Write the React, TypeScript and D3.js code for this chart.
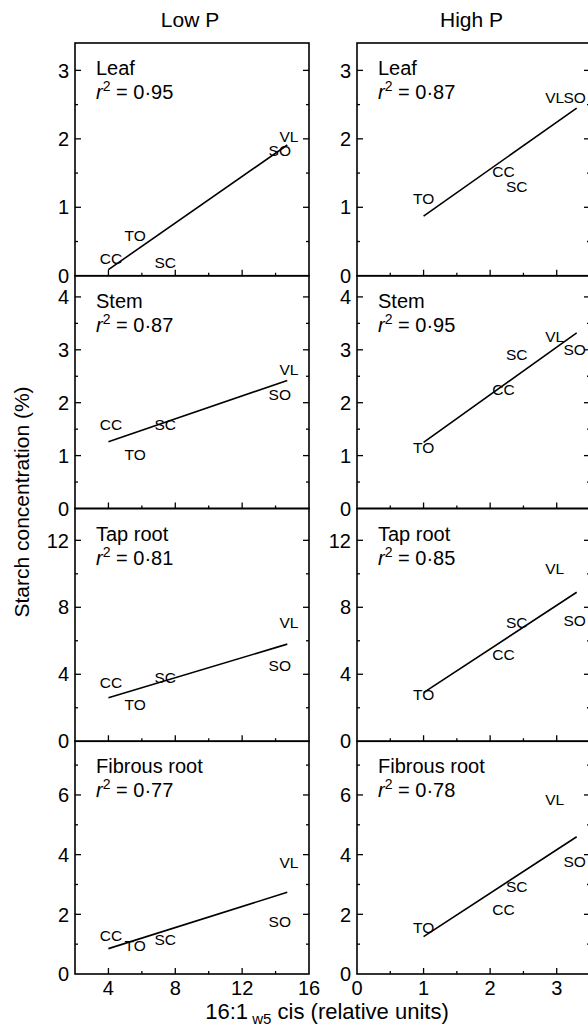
import React from 'react';
import * as d3 from 'd3';

// column / row names
const treatments = ['Low P', 'High P'];
const organs = ['Leaf', 'Stem', 'Tap root', 'Fibrous root'];
const lowPR2 = ['0·95', '0·87', '0·81', '0·77'];
const highPR2 = ['0·87', '0·95', '0·85', '0·78'];

// genotypes (labels are the markers)
const genotypes = ['CC', 'SC', 'TO', 'SO', 'VL'];
const lowPX = [4.15, 7.4, 5.6, 14.25, 14.8];
const highPX = [2.2, 2.4, 1.0, 3.27, 2.97];

// starch concentration (%) per organ, order as genotypes
const lowPY = [
  [0.26, 0.2, 0.59, 1.83, 2.03],
  [1.59, 1.59, 1.03, 2.16, 2.63],
  [3.5, 3.8, 2.2, 4.5, 7.1],
  [1.29, 1.15, 0.95, 1.76, 3.73],
];
const highPY = [
  [1.52, 1.3, 1.13, 2.61, 2.61],
  [2.25, 2.91, 1.16, 3.0, 3.26],
  [5.16, 7.1, 2.8, 7.2, 10.3],
  [2.17, 2.95, 1.56, 3.76, 5.86],
];

// fitted regression lines (ends)
const lowPFitX = [4, 14.7];
const lowPFitY = [[0.09, 1.91], [1.26, 2.42], [2.6, 5.8], [0.85, 2.74]];
const highPFitX = [1.0, 3.3];
const highPFitY = [[0.87, 2.45], [1.25, 3.32], [2.9, 8.9], [1.25, 4.6]];

// axes
const yMax = [3.4, 4.4, 13.9, 7.8];
const yMajor = [[0, 1, 2, 3], [0, 1, 2, 3, 4], [0, 4, 8, 12], [0, 2, 4, 6]];
const yStep = [0.5, 0.5, 2, 1];
const lowPXDomain = [2, 16];
const lowPXMajor = [4, 8, 12];
const lowPXLabels = [4, 8, 12, 16];
const highPXDomain = [0, 3.5];
const highPXMajor = [1, 2, 3];
const highPXLabels = [0, 1, 2, 3];

const font = '"Liberation Sans", Arial, sans-serif';
const W = 588;
const H = 1025;

const colRanges = [[75, 309], [357, 590]];
const rowBand = d3.scaleBand().domain(organs).range([43, 974]).paddingInner(0);

const Panel = ({ col, row }) => {
  const organ = organs[row];
  const low = col === 0;
  const [x0, x1] = colRanges[col];
  const top = rowBand(organ);
  const bottom = top + rowBand.bandwidth();
  const xScale = d3.scaleLinear().domain(low ? lowPXDomain : highPXDomain).range([x0, x1]);
  const yScale = d3.scaleLinear().domain([0, yMax[row]]).range([bottom, top]);
  const xs = low ? lowPX : highPX;
  const ys = low ? lowPY[row] : highPY[row];
  const fitX = low ? lowPFitX : highPFitX;
  const fitY = low ? lowPFitY[row] : highPFitY[row];
  const r2 = low ? lowPR2[row] : highPR2[row];

  const yTicks = d3.range(yStep[row], yMax[row] + 1e-9, yStep[row]);
  const step = low ? 2 : 0.5;
  const dom = low ? lowPXDomain : highPXDomain;
  const xTicks = d3.range(dom[0] + step, dom[1] - 1e-9, step);
  const xMaj = low ? lowPXMajor : highPXMajor;
  const isLast = row === organs.length - 1;

  const fitLine = d3.line().x(d => xScale(d[0])).y(d => yScale(d[1]));

  return (
    <g>
      <rect x={x0} y={top} width={x1 - x0} height={bottom - top} fill="none" stroke="#000" strokeWidth={1.6} />
      {yTicks.map(t => {
        const major = yMajor[row].some(m => Math.abs(m - t) < 1e-9);
        const len = major ? 6 : 3;
        return (
          <g key={'y' + t}>
            <line x1={x0} x2={x0 + len} y1={yScale(t)} y2={yScale(t)} stroke="#000" strokeWidth={1.3} />
            <line x1={x1} x2={x1 - len} y1={yScale(t)} y2={yScale(t)} stroke="#000" strokeWidth={1.3} />
          </g>
        );
      })}
      {yMajor[row].map(t => (
        <text key={'yl' + t} x={x0 - 6} y={yScale(t)} dy="0.36em" textAnchor="end" fontSize={20}>
          {t}
        </text>
      ))}
      {xTicks.map(t => {
        const major = xMaj.some(m => Math.abs(m - t) < 1e-9);
        const len = major ? 6 : 3;
        return (
          <line key={'x' + t} x1={xScale(t)} x2={xScale(t)} y1={bottom} y2={bottom - len} stroke="#000" strokeWidth={1.3} />
        );
      })}
      {isLast &&
        (low ? lowPXLabels : highPXLabels).map(t => (
          <text key={'xl' + t} x={xScale(t)} y={bottom + 21} textAnchor="middle" fontSize={20}>
            {t}
          </text>
        ))}
      <text x={x0 + 21} y={top + 32} fontSize={20}>{organ}</text>
      <text x={x0 + 21} y={top + 56} fontSize={20}>
        <tspan fontStyle="italic">r</tspan>
        <tspan fontSize={14} dy={-8}>2</tspan>
        <tspan dy={8}> = {r2}</tspan>
      </text>
      <path
        d={fitLine([[fitX[0], fitY[0]], [fitX[1], fitY[1]]])}
        fill="none"
        stroke="#000"
        strokeWidth={1.6}
      />
      {genotypes.map((g, i) => (
        <text key={g} x={xScale(xs[i])} y={yScale(ys[i])} dy="0.36em" textAnchor="middle" fontSize={15.5}>
          {g}
        </text>
      ))}
    </g>
  );
};

export default function App() {
  return (
    <svg
      width={W}
      height={H}
      style={{ position: 'absolute', left: 0, top: 0, background: '#fff' }}
      fontFamily={font}
    >
      <rect width={W} height={H} fill="#fff" />
      {treatments.map((t, c) => (
        <text key={t} x={(colRanges[c][0] + colRanges[c][1]) / 2 - 2} y={27} textAnchor="middle" fontSize={21}>
          {t}
        </text>
      ))}
      {treatments.map((t, c) => organs.map((o, r) => <Panel key={t + o} col={c} row={r} />))}
      <text transform="translate(29,502) rotate(-90)" textAnchor="middle" fontSize={21}>
        Starch concentration (%)
      </text>
      <text x={327} y={1019} textAnchor="middle" fontSize={22}>
        16:1
        <tspan fontSize={15} dy={5}> w5</tspan>
        <tspan dy={-5}> cis (relative units)</tspan>
      </text>
    </svg>
  );
}
